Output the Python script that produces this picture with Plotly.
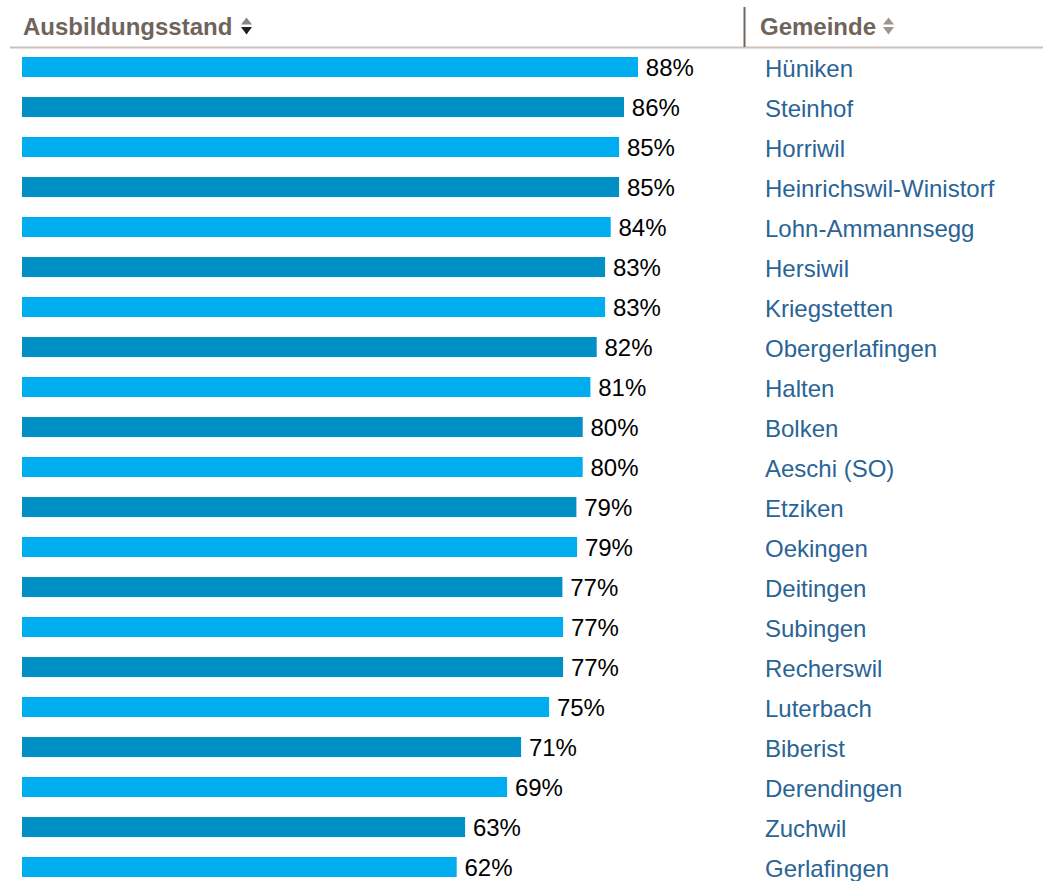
import plotly.graph_objects as go

# ---- data ----
gemeinden = ["Hüniken", "Steinhof", "Horriwil", "Heinrichswil-Winistorf", "Lohn-Ammannsegg",
             "Hersiwil", "Kriegstetten", "Obergerlafingen", "Halten", "Bolken", "Aeschi (SO)",
             "Etziken", "Oekingen", "Deitingen", "Subingen", "Recherswil", "Luterbach",
             "Biberist", "Derendingen", "Zuchwil", "Gerlafingen"]
ausbildungsstand = [88.0, 86.0, 85.3, 85.3, 84.1, 83.3, 83.3, 82.1, 81.2, 80.1, 80.1,
                    79.2, 79.3, 77.2, 77.3, 77.3, 75.3, 71.3, 69.3, 63.3, 62.1]
header_left = "Ausbildungsstand"
header_right = "Gemeinde"

# body margin is removed in the page, figure drawn at window (0, 0)
OFF = 0
W, H = 1043 - OFF, 881 - OFF
FONT = "Liberation Sans, Arial, Helvetica, sans-serif"
LIGHT = "#00adee"
DARK = "#0090c6"
LINK = "#2a6496"
HEAD = "#6f645c"
FS = 24

colors = [LIGHT if i % 2 == 0 else DARK for i in range(len(gemeinden))]


def px(x):
    """window pixel x -> paper"""
    return (x - OFF) / W


def py(y):
    """window pixel y -> paper"""
    return 1 - (y - OFF) / H


fig = go.Figure()
fig.add_trace(go.Bar(
    x=ausbildungsstand, y=gemeinden, orientation="h",
    marker=dict(color=colors, line=dict(width=0)),
    width=0.5,
    texttemplate="\u2009%{x:.0f}%", textposition="outside", constraintext="none",
    textfont=dict(family=FONT, size=FS, color="#000000"),
    cliponaxis=False, hoverinfo="skip",
))

# x: window 22px -> 0, 7px per percent
x0 = -(22 - OFF) / 7
x1 = (W - (22 - OFF)) / 7
# y: first row centre at window 67px, 40px pitch
y_top = -(67 - OFF) / 40
y_bot = (H - (67 - OFF)) / 40

fig.update_xaxes(range=[x0, x1], visible=False, fixedrange=True)
fig.update_yaxes(type="category", categoryorder="array", categoryarray=gemeinden,
                 range=[y_bot, y_top], visible=False, fixedrange=True)

ann = []
for g in gemeinden:
    ann.append(dict(xref="paper", yref="y", x=px(763), y=g, text=g, showarrow=False,
                    xanchor="left", yanchor="middle", yshift=-1,
                    font=dict(family=FONT, size=FS, color=LINK)))

ann.append(dict(xref="paper", yref="paper", x=px(21), y=py(27), text="<b>" + header_left + "</b>",
                showarrow=False, xanchor="left", yanchor="middle",
                font=dict(family=FONT, size=FS, color=HEAD)))
ann.append(dict(xref="paper", yref="paper", x=px(758), y=py(27), text="<b>" + header_right + "</b>",
                showarrow=False, xanchor="left", yanchor="middle",
                font=dict(family=FONT, size=FS, color=HEAD)))


def tri(xl, xr, yt, yb, up):
    if up:
        return f"M {px(xl)} {py(yb)} L {px(xr)} {py(yb)} L {px((xl + xr) / 2)} {py(yt)} Z"
    return f"M {px(xl)} {py(yt)} L {px(xr)} {py(yt)} L {px((xl + xr) / 2)} {py(yb)} Z"


shapes = [
    dict(type="line", xref="paper", yref="paper", x0=px(10), x1=1, y0=py(47.5), y1=py(47.5),
         line=dict(color="#cbc2bb", width=2)),
    dict(type="line", xref="paper", yref="paper", x0=px(744.5), x1=px(744.5), y0=py(7), y1=py(47),
         line=dict(color=HEAD, width=2)),
    dict(type="path", xref="paper", yref="paper", path=tri(241, 252, 17.5, 24.5, True),
         fillcolor="#8a8580", line=dict(width=0)),
    dict(type="path", xref="paper", yref="paper", path=tri(241, 252, 27, 34.5, False),
         fillcolor="#1e1e1e", line=dict(width=0)),
    dict(type="path", xref="paper", yref="paper", path=tri(883, 894, 17.5, 24.5, True),
         fillcolor="#9a9591", line=dict(width=0)),
    dict(type="path", xref="paper", yref="paper", path=tri(883, 894, 27, 34.5, False),
         fillcolor="#9a9591", line=dict(width=0)),
]

fig.update_layout(
    width=W, height=H, margin=dict(l=0, r=0, t=0, b=0),
    paper_bgcolor="white", plot_bgcolor="white",
    showlegend=False, annotations=ann, shapes=shapes,
    font=dict(family=FONT),
)

fig.write_html("out.html", config={"displayModeBar": False},
               post_script="document.body.style.margin='0';document.body.style.overflow='hidden';")
